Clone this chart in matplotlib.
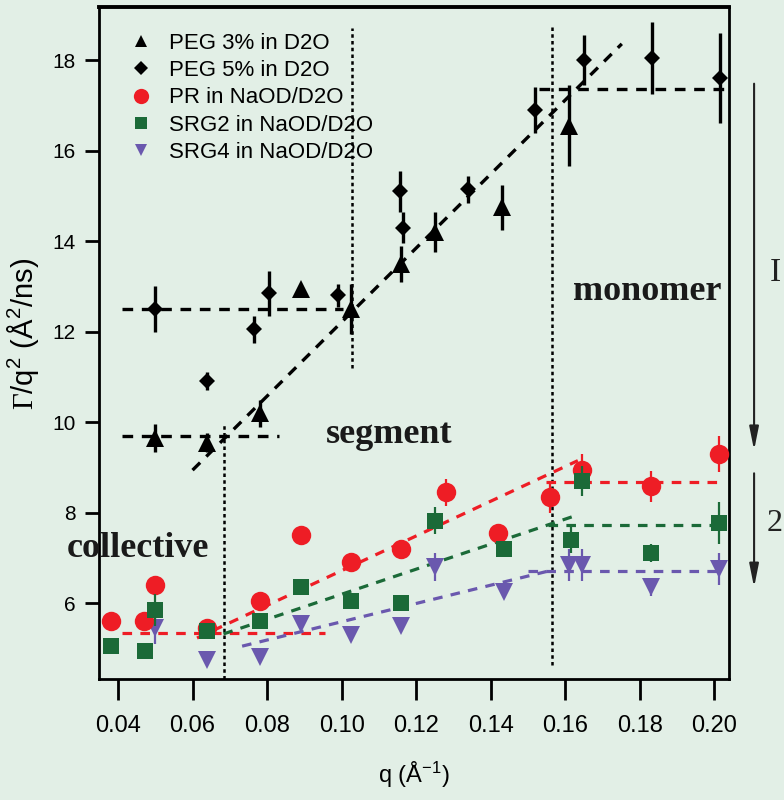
import numpy as np
import matplotlib
matplotlib.use("Agg")
import matplotlib.pyplot as plt
from matplotlib.lines import Line2D

plt.rcParams['font.family'] = ['Liberation Sans', 'DejaVu Sans']
plt.rcParams['mathtext.fontset'] = 'custom'
plt.rcParams['mathtext.rm'] = 'Liberation Sans'
plt.rcParams['mathtext.it'] = 'Liberation Sans'
plt.rcParams['mathtext.cal'] = 'Liberation Serif'

BG = "#e2efe6"
RED = "#ee1d25"
GREEN = "#1b6a38"
PURPLE = "#6a58ae"

# --- data: q (1/A), Gamma/q^2 (A^2/ns), error ---
peg3_q = [0.050, 0.064, 0.078, 0.089, 0.1025, 0.116, 0.125, 0.143, 0.161]
peg3_g = [9.65, 9.55, 10.2, 12.95, 12.5, 13.5, 14.2, 14.75, 16.55]
peg3_e = [0.3, 0.2, 0.3, 0.0, 0.55, 0.4, 0.45, 0.5, 0.9]

peg5_q = [0.050, 0.064, 0.0765, 0.0805, 0.099, 0.1165, 0.1157, 0.134, 0.1518, 0.165, 0.1833, 0.2015]
peg5_g = [12.5, 10.9, 12.05, 12.85, 12.8, 14.3, 15.1, 15.15, 16.9, 18.0, 18.05, 17.6]
peg5_e = [0.5, 0.2, 0.3, 0.5, 0.25, 0.35, 0.45, 0.3, 0.5, 0.55, 0.8, 1.0]

pr_q = [0.038, 0.047, 0.050, 0.064, 0.078, 0.089, 0.1025, 0.116, 0.128, 0.142, 0.156, 0.1645, 0.183, 0.2013]
pr_g = [5.6, 5.6, 6.4, 5.45, 6.05, 7.5, 6.9, 7.2, 8.45, 7.55, 8.35, 8.95, 8.58, 9.3]
pr_e = [0.15, 0.15, 0.2, 0.1, 0.2, 0.1, 0.1, 0.1, 0.3, 0.1, 0.35, 0.35, 0.35, 0.4]

srg2_q = [0.038, 0.0473, 0.050, 0.064, 0.078, 0.089, 0.1025, 0.116, 0.125, 0.1435, 0.1615, 0.1645, 0.183, 0.2013]
srg2_g = [5.05, 4.95, 5.85, 5.38, 5.6, 6.35, 6.05, 6.0, 7.82, 7.2, 7.4, 8.7, 7.1, 7.77]
srg2_e = [0.1, 0.15, 0.35, 0.1, 0.1, 0.1, 0.1, 0.1, 0.3, 0.15, 0.3, 0.33, 0.2, 0.46]

srg4_q = [0.050, 0.064, 0.078, 0.089, 0.1025, 0.116, 0.125, 0.1435, 0.161, 0.1645, 0.183, 0.2013]
srg4_g = [5.45, 4.75, 4.8, 5.55, 5.3, 5.5, 6.8, 6.25, 6.85, 6.85, 6.35, 6.75]
srg4_e = [0.35, 0.0, 0.1, 0.1, 0.1, 0.1, 0.3, 0.1, 0.35, 0.35, 0.2, 0.35]

# fitted regimes (x pair, y pair)
black_fits = [
    ([0.041, 0.1005], [12.5, 12.5]),
    ([0.041, 0.0833], [9.7, 9.7]),
    ([0.060, 0.1752], [8.94, 18.36]),
    ([0.153, 0.2026], [17.37, 17.37]),
]
red_fits = [
    ([0.041, 0.0956], [5.33, 5.33]),
    ([0.0612, 0.1634], [5.23, 9.15]),
    ([0.1548, 0.2024], [8.68, 8.68]),
]
green_fits = [
    ([0.0683, 0.1637], [5.32, 7.96]),
    ([0.1553, 0.2024], [7.72, 7.72]),
]
purple_fits = [
    ([0.0733, 0.156], [5.05, 6.72]),
    ([0.150, 0.2024], [6.72, 6.72]),
]
# vertical crossover lines (q, ymin, ymax)
crossovers = [(0.0685, 4.32, 9.97), (0.1027, 11.2, 18.7), (0.1564, 4.63, 18.76)]

fig = plt.figure(figsize=(7.84, 8.0), dpi=100, facecolor=BG)
ax = fig.add_axes([0.1263, 0.151, 0.8037, 0.84])
ax.set_facecolor(BG)

for q, y0, y1 in crossovers:
    ax.plot([q, q], [y0, y1], color="black", lw=1.8, dashes=(1.4, 1.3), zorder=2)

for xs, ys in black_fits:
    ax.plot(xs, ys, color="black", lw=2.4, dashes=(3.2, 2.6), zorder=2)
for fits, c in ((red_fits, RED), (green_fits, GREEN), (purple_fits, PURPLE)):
    for xs, ys in fits:
        ax.plot(xs, ys, color=c, lw=2.3, dashes=(3.0, 2.6), zorder=2)

ax.errorbar(srg4_q, srg4_g, yerr=srg4_e, fmt='v', color=PURPLE, ms=13, mew=0,
            elinewidth=1.6, capsize=0, zorder=3)
ax.errorbar(srg2_q, srg2_g, yerr=srg2_e, fmt='s', color=GREEN, ms=12, mew=0,
            elinewidth=1.6, capsize=0, zorder=4)
ax.errorbar(pr_q, pr_g, yerr=pr_e, fmt='o', color=RED, ms=14, mew=0,
            elinewidth=1.6, capsize=0, zorder=3.5)
ax.errorbar(peg5_q, peg5_g, yerr=peg5_e, fmt='D', color="black", ms=8, mew=0,
            elinewidth=2.4, capsize=0, zorder=5)
ax.errorbar(peg3_q, peg3_g, yerr=peg3_e, fmt='^', color="black", ms=13, mew=0,
            elinewidth=2.4, capsize=0, zorder=5)

ax.set_xlim(0.0349, 0.204)
ax.set_ylim(4.32, 19.17)
ax.set_xticks([0.04, 0.06, 0.08, 0.10, 0.12, 0.14, 0.16, 0.18, 0.20])
ax.set_xticklabels(["0.04", "0.06", "0.08", "0.10", "0.12", "0.14", "0.16", "0.18", "0.20"])
ax.set_yticks([6, 8, 10, 12, 14, 16, 18])
ax.tick_params(axis='x', direction='out', length=15, width=2, labelsize=17, pad=11)
ax.tick_params(axis='y', direction='out', length=10, width=2, labelsize=15, pad=7)
for s in ax.spines.values():
    s.set_linewidth(2)
    s.set_color("black")
ax.spines['top'].set_linewidth(2.8)

ax.set_xlabel(r"q (Å$^{-1}$)", fontsize=17, labelpad=16)
ax.set_ylabel(r"$\mathcal{\Gamma}$/q$^2$ (Å$^2$/ns)", fontsize=21)
ax.yaxis.set_label_coords(-0.092, 0.513)

# legend with small markers
handles = [
    Line2D([], [], ls='none', marker='^', color='black', ms=9, mew=0),
    Line2D([], [], ls='none', marker='D', color='black', ms=7, mew=0),
    Line2D([], [], ls='none', marker='o', color=RED, ms=11, mew=0),
    Line2D([], [], ls='none', marker='s', color=GREEN, ms=9, mew=0),
    Line2D([], [], ls='none', marker='v', color=PURPLE, ms=9, mew=0),
]
labels = ["PEG 3% in D2O", "PEG 5% in D2O", "PR in NaOD/D2O",
          "SRG2 in NaOD/D2O", "SRG4 in NaOD/D2O"]
ax.legend(handles, labels, loc='upper left', bbox_to_anchor=(0.025, 0.985),
          frameon=False, fontsize=16, handlelength=1.0, handletextpad=0.75,
          labelspacing=0.28, borderaxespad=0.3)

serif = ['Liberation Serif', 'DejaVu Serif']
ax.text(0.0263, 7.02, "collective", family=serif, weight='bold', fontsize=26,
        color="#1a1a1a", clip_on=False, zorder=6)
ax.text(0.0959, 9.53, "segment", family=serif, weight='bold', fontsize=26,
        color="#1a1a1a", zorder=6)
ax.text(0.1620, 12.69, "monomer", family=serif, weight='bold', fontsize=26,
        color="#1a1a1a", zorder=6)

# regime arrows on the right
arrow = dict(arrowstyle="-|>,head_length=1.4,head_width=0.28",
             color="#222222", lw=1.5, shrinkA=0, shrinkB=0)
ax.annotate("", xy=(0.2107, 9.38), xytext=(0.2107, 17.48), annotation_clip=False,
            arrowprops=arrow)
ax.annotate("", xy=(0.2107, 6.35), xytext=(0.2107, 8.87), annotation_clip=False,
            arrowprops=arrow)
ax.text(0.2150, 13.13, "I", family=serif, fontsize=24, color="#222222", clip_on=False)
ax.text(0.2141, 7.6, "2", family=serif, fontsize=23, color="#222222", clip_on=False)

fig.savefig("out.png", dpi=100, facecolor=BG)
